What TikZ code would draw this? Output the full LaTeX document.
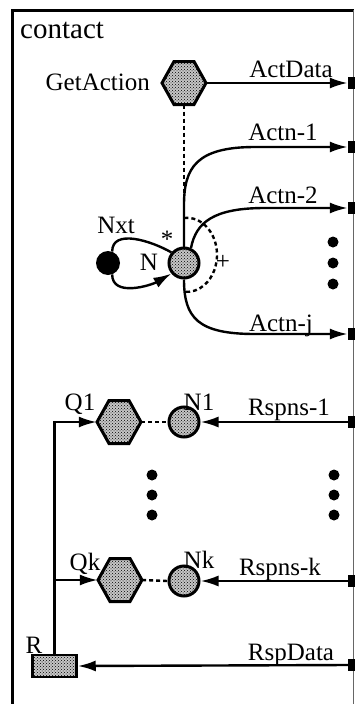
\documentclass[tikz,border=0pt]{standalone}
\usepackage{fontspec}
\setmainfont{Liberation Serif}
\usetikzlibrary{arrows.meta,patterns}

% hexagonal place: an invisible box for anchors plus the drawn outline
\newcommand\hexplace[3]{%
  \node[hexbox] (#1) at (#2,#3) {};
  \draw[hexshape] ([shift={(-22,0)}]#1.center) -- ++(12,21.5) -- ++(20,0)
    -- ++(12,-21.5) -- ++(-12,-21.5) -- ++(-20,0) -- cycle;}

\begin{document}
\begin{tikzpicture}[x=1pt,y=1pt,
  lbl/.style={font=\fontsize{25}{30}\selectfont, inner sep=0pt},
  conn/.style={line width=2.4pt},
  arr/.style={conn, -{Latex[length=18pt,width=11pt]}},
  dashline/.style={line width=2.4pt, dash pattern=on 4pt off 3pt},
  dotfill/.style={fill=gray!45, postaction={pattern=crosshatch dots}},
  hexbox/.style={rectangle, minimum width=44pt, minimum height=43pt, inner sep=0pt},
  hexshape/.style={line width=3pt, line join=miter, dotfill},
  place/.style={circle, draw, line width=3pt, minimum size=30pt, inner sep=0pt, dotfill},
  port/.style={rectangle, fill=black, minimum width=8pt, minimum height=12pt, inner sep=0pt},
  dotmark/.style={circle, fill=black, minimum size=11pt, inner sep=0pt},
]
\useasboundingbox (0,0) rectangle (354,-704);

% frame of the module
\draw[line width=3pt] (12,-704) -- (12,-10) -- (354,-10);
\draw[line width=0.8pt, black!60] (353,-10) -- (353,-704);
\node[font=\fontsize{29}{34}\selectfont, inner sep=0pt, anchor=base west] (title) at (20,-38) {contact};

% ports on the right edge
\node[port] (pa) at (352,-83) {};
\node[port] (p1) at (352,-147) {};
\node[port] (p2) at (352,-208) {};
\node[port] (pj) at (352,-334) {};
\node[port] (r1) at (352,-422) {};
\node[port] (rk) at (352,-581) {};
\node[port] (rd) at (352,-665) {};

% places
\hexplace{ga}{184}{-83}
\node[place] (n) at (184,-263) {};
\node[circle, fill=black, minimum size=24pt, inner sep=0pt] (nxt) at (108,-263) {};
\hexplace{q1}{119}{-422}
\node[place] (n1) at (184,-422) {};
\hexplace{qk}{120}{-580}
\node[place] (nk) at (184,-581) {};
\node[rectangle, draw, line width=2.5pt, dotfill, minimum width=44pt, minimum height=22pt, inner sep=0pt] (r) at (54.5,-666) {};

% labels
\node[lbl, anchor=base east] (lga) at (150,-90) {GetAction};
\node[lbl, anchor=base] (lad) at (291,-77) {ActData};
\node[lbl, anchor=base] (la1) at (283,-140) {Actn-1};
\node[lbl, anchor=base] (la2) at (283,-203) {Actn-2};
\node[lbl, anchor=base] (laj) at (281,-331) {Actn-j};
\node[lbl, anchor=base] (lnxt) at (116,-233) {Nxt};
\node[lbl, anchor=base] (ln) at (149,-270) {N};
\node[lbl, anchor=base] (lstar) at (167,-247) {*};
\node[lbl] (lplus) at (223,-262) {+};
\node[lbl, anchor=base] (lq1) at (80,-410) {Q1};
\node[lbl, anchor=base] (ln1) at (199,-410) {N1};
\node[lbl, anchor=base] (lr1) at (289,-415) {Rspns-1};
\node[lbl, anchor=base] (lqk) at (85,-570) {Qk};
\node[lbl, anchor=base] (lnk) at (199,-568) {Nk};
\node[lbl, anchor=base] (lrk) at (280,-575) {Rspns-k};
\node[lbl, anchor=base] (lr) at (34,-653) {R};
\node[lbl, anchor=base] (lrd) at (291,-660) {RspData};

% ellipsis dots
\node[dotmark] (da1) at (333,-242) {};
\node[dotmark] (da2) at (333,-263) {};
\node[dotmark] (da3) at (333,-284) {};
\node[dotmark] (db1) at (152,-475) {};
\node[dotmark] (db2) at (152,-495) {};
\node[dotmark] (db3) at (152,-515) {};
\node[dotmark] (dc1) at (334,-475) {};
\node[dotmark] (dc2) at (334,-495) {};
\node[dotmark] (dc3) at (334,-515) {};

% connectors
\draw[arr] (ga.east) -- (pa.west);
\draw[dashline] (ga.south) -- (n.north);
\draw[arr] (n.north) -- (184,-205) .. controls (184,-168) and (196,-147) .. (255,-147) -- (p1.west);
\draw[arr] (n.65) .. controls (196,-222) and (214,-208) .. (265,-208) -- (p2.west);
\draw[arr] (n.south) .. controls (184,-318) and (198,-334) .. (255,-334) -- (pj.west);
\draw[conn] (nxt.70) to[out=90, in=150] (n.140);
\draw[arr] (nxt.-70) to[out=-90, in=-150] (n.-140);
\coordinate (arcstart) at (184.4,-218);
\draw[dashline] (arcstart) arc[start angle=95, end angle=-95, x radius=30, y radius=37];

\draw[dashline] (q1.east) -- (n1.west);
\draw[dashline] (qk.east) -- (nk.west);
\draw[arr] (r1.west) -- (n1.east);
\draw[arr] (rk.west) -- (nk.east);
\draw[arr] (rd.west) -- (r.east);
\draw[arr] (r.north) |- (q1.west);
\draw[arr] (r.north |- qk.west) -- (qk.west);
\end{tikzpicture}
\end{document}
